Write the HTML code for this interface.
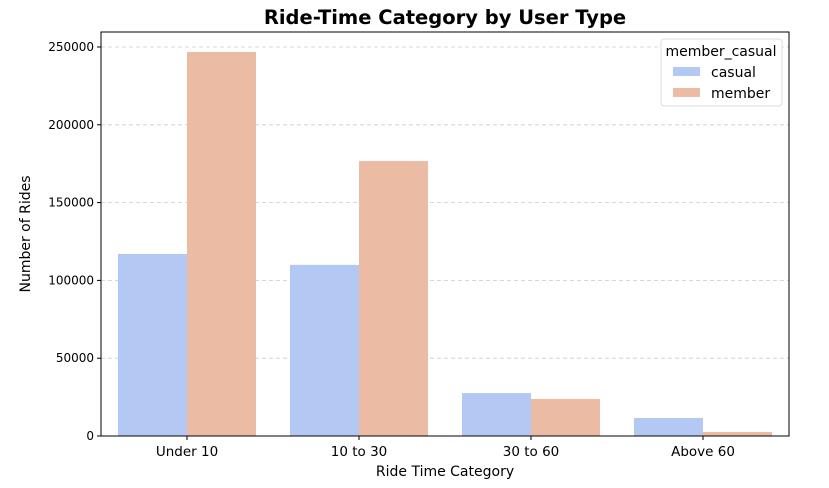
<!DOCTYPE html>
<html><head><meta charset="utf-8"><style>
body{margin:0;background:#fff;font-family:"DejaVu Sans","Liberation Sans",sans-serif;}
svg text{font-family:"DejaVu Sans","Liberation Sans",sans-serif;}
</style></head><body>
<svg id="chart" width="829" height="484" xmlns="http://www.w3.org/2000/svg"></svg>
<script>
const categories=["Under 10","10 to 30","30 to 60","Above 60"];
const casualValues=[117000,110000,27600,11600];
const memberValues=[246800,176700,23800,2600];
const yTicks=[0,50000,100000,150000,200000,250000];
const seriesNames=["casual","member"];
const colors=["#b3c9f4","#ebbba4"];

const svg=document.getElementById('chart');
const NS="http://www.w3.org/2000/svg";
const L=101,R=789,T=32,B=436;
function y(v){return B-v*(389/250000);}
function xc(i){return L+(R-L)/categories.length*(i+0.5);}
const bw=69;
function mk(tag,attrs,txt){const e=document.createElementNS(NS,tag);for(const k in attrs)e.setAttribute(k,attrs[k]);if(txt!==undefined)e.textContent=txt;svg.appendChild(e);return e;}

yTicks.forEach(v=>{
  const g=mk('line',{x1:L,x2:R,y1:y(v),y2:y(v),stroke:'#ccc','stroke-dasharray':'4,3','stroke-width':0.8});
  
  
  const t=mk('line',{x1:L-4,x2:L,y1:y(v),y2:y(v),stroke:'#000'});
  
  
  const l=mk('text',{x:L-7,y:y(v)+4,'text-anchor':'end','font-size':12},String(v));
  
  
});
[casualValues,memberValues].forEach((vals,s)=>{
  vals.forEach((v,i)=>{
    const x=xc(i)-bw+s*bw;
    const r=mk('rect',{x:x,y:y(v),width:bw,height:B-y(v),fill:colors[s]});
    
    
  });
});
categories.forEach((c,i)=>{
  const t=mk('line',{x1:xc(i),x2:xc(i),y1:B,y2:B+4,stroke:'#000'});
  
  
  const l=mk('text',{x:xc(i),y:B+20,'text-anchor':'middle','font-size':13.5},c);
  
  
});
const fr=mk('rect',{x:L,y:T,width:R-L,height:B-T,fill:'none',stroke:'#000','stroke-width':1});


const ti=mk('text',{x:(L+R)/2,y:24,'text-anchor':'middle','font-size':19.5,'font-weight':'bold'},'Ride-Time Category by User Type');


const xt=mk('text',{x:(L+R)/2,y:476,'text-anchor':'middle','font-size':14},'Ride Time Category');


const yt=mk('text',{x:0,y:0,'text-anchor':'middle','font-size':14,transform:'translate(30,234) rotate(-90)'},'Number of Rides');


const lg=mk('rect',{x:661,y:39,width:121,height:67,fill:'#fff',stroke:'#ddd',rx:3});


const lt=mk('text',{x:721,y:56,'text-anchor':'middle','font-size':14},'member_casual');


seriesNames.forEach((n,s)=>{
  const sw=mk('rect',{x:673,y:67+s*21,width:27,height:9,fill:colors[s]});
  
  
  const tx=mk('text',{x:711,y:77+s*21,'font-size':14},n);
  
  
});
</script>
</body></html>
